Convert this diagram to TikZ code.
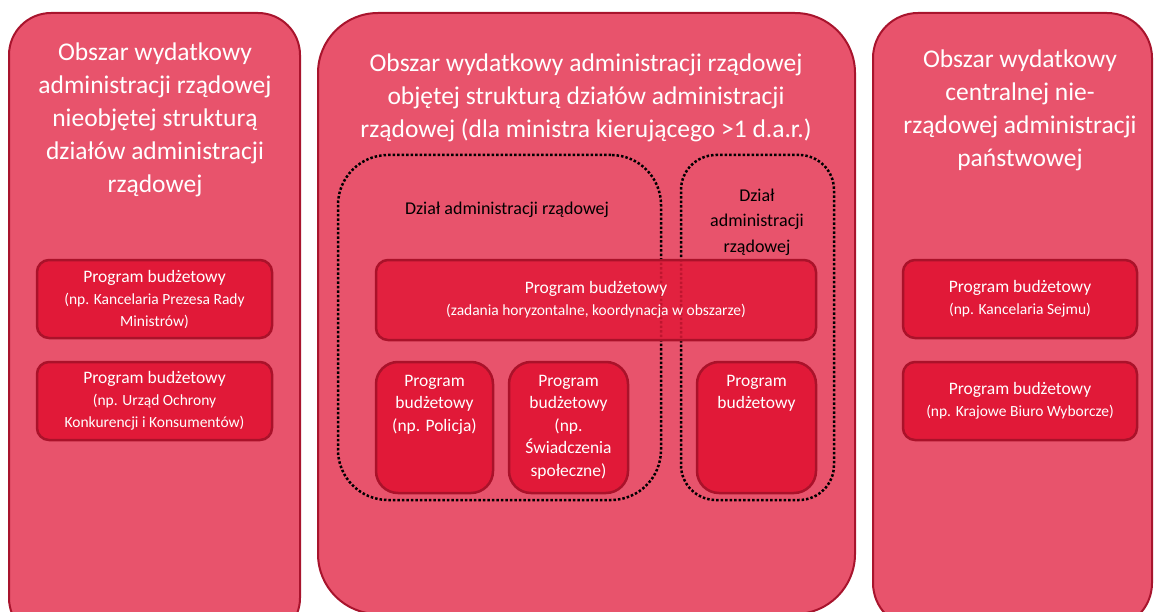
\documentclass[tikz,border=0pt]{standalone}
\usepackage{fontspec}
\setmainfont{Carlito}
\usetikzlibrary{positioning}
\definecolor{panelfill}{RGB}{232,83,108}
\definecolor{panelline}{RGB}{168,20,45}
\definecolor{progfill}{RGB}{225,25,56}
\definecolor{progline}{RGB}{170,18,42}
\newcommand{\pbig}{\fontsize{17.5}{22}\selectfont}

\begin{document}
\begin{tikzpicture}[x=1pt,y=-1pt,inner sep=0pt,
 panel/.style={draw=panelline,fill=panelfill,line width=2pt,rounded corners=#1},
 prog/.style={draw=progline,fill=progfill,line width=2.5pt,rounded corners=#1,
   text=white,align=center,font=\fontsize{15.5}{22}\selectfont},
 dzial/.style={draw=black,dotted,line width=2.5pt,rounded corners=#1},
 head/.style={text=white,align=center,font=\fontsize{25.5}{33}\selectfont},
 dtext/.style={text=black,align=center,font=\fontsize{18}{25.5}\selectfont},
 ptext/.style={text=white,align=center,font=\fontsize{17.5}{22.5}\selectfont}]
 \useasboundingbox (0,0) rectangle (1155,612);
 \node[panel=42pt,minimum width=291pt,minimum height=627pt] (o_l) at (154.5,326.5) {};
 \node[panel=60pt,minimum width=537pt,minimum height=601pt] (o_c) at (586.5,313.5) {};
 \node[panel=45pt,minimum width=279pt,minimum height=615pt] (o_r) at (1012.5,320.5) {};

 \node[head] (t_l) at (155,120) {Obszar wydatkowy\\administracji rządowej\\nieobjętej strukturą\\działów administracji\\rządowej};
 \node[head] (t_c) at (586,98) {Obszar wydatkowy administracji rządowej\\objętej strukturą działów administracji\\rządowej (dla ministra kierującego >1 d.a.r.)};
 \node[head] (t_r) at (1020,110) {Obszar wydatkowy\\centralnej nie-\\rządowej administracji\\państwowej};

 \node[prog=12pt,minimum width=235pt,minimum height=78pt] (p_l1) at (154.5,299) {{\pbig Program budżetowy}\\(np. Kancelaria Prezesa Rady\\Ministrów)};
 \node[prog=12pt,minimum width=235pt,minimum height=78pt] (p_l2) at (154.5,401) {{\pbig Program budżetowy}\\(np. Urząd Ochrony\\Konkurencji i Konsumentów)};
 \node[prog=12pt,minimum width=234pt,minimum height=78pt] (p_r1) at (1020,299) {{\pbig Program budżetowy}\\(np. Kancelaria Sejmu)};
 \node[prog=12pt,minimum width=234pt,minimum height=78pt] (p_r2) at (1020,401) {{\pbig Program budżetowy}\\(np. Krajowe Biuro Wyborcze)};

 \node[dzial=50pt,minimum width=323pt,minimum height=345pt] (d_1) at (499.5,327.5) {};
 \node[dzial=35pt,minimum width=153pt,minimum height=345pt] (d_2) at (757.5,327.5) {};
 \node[dtext] (l_1) at (507,210) {Dział administracji rządowej};
 \node[dtext] (l_2) at (757,222) {Dział\\administracji\\rządowej};

 \node[prog=12pt,fill opacity=0.85,text opacity=1,minimum width=440pt,minimum height=80pt] (p_w) at (596,300) {{\pbig Program budżetowy}\\(zadania horyzontalne, koordynacja w obszarze)};
 \node[prog=22pt,minimum width=117pt,minimum height=131pt] (p_1) at (434.5,427.5) {};
 \node[prog=22pt,minimum width=119pt,minimum height=131pt] (p_2) at (568.5,427.5) {};
 \node[prog=22pt,minimum width=119pt,minimum height=131pt] (p_3) at (756.5,427.5) {};
 \node[ptext,below=14pt of p_1.north] (s_1) {Program\\budżetowy\\(np. Policja)};
 \node[ptext,below=14pt of p_2.north] (s_2) {Program\\budżetowy\\(np.\\Świadczenia\\społeczne)};
 \node[ptext,below=14pt of p_3.north] (s_3) {Program\\budżetowy};
\end{tikzpicture}
\end{document}
